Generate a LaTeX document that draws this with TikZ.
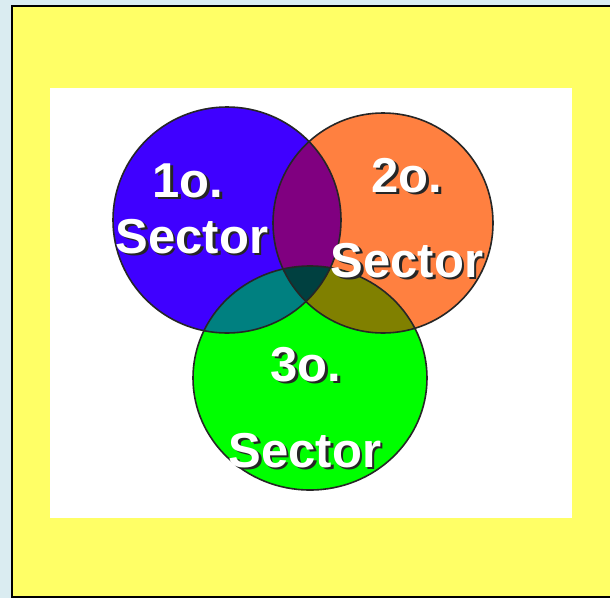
\documentclass[tikz,border=0pt]{standalone}
\usepackage{fontspec}
\setmainfont{Liberation Sans}
\usepackage{tikz}

\definecolor{pagebg}{HTML}{DAECF1}
\definecolor{slideyellow}{HTML}{FFFF66}
\definecolor{sectorblue}{HTML}{3F00FF}
\definecolor{sectororange}{HTML}{FF8040}
\definecolor{sectorgreen}{HTML}{00FF00}
\definecolor{mixbo}{HTML}{800080}
\definecolor{mixbg}{HTML}{008080}
\definecolor{mixog}{HTML}{808000}
\definecolor{mixall}{HTML}{004040}

\newcommand{\blueC}{(227,220) circle [x radius=114, y radius=113]}
\newcommand{\orangeC}{(383,223) circle [radius=110]}
\newcommand{\greenC}{(310,378) circle [x radius=117, y radius=112]}
% white text with a dark drop shadow, in one box
\newcommand{\shadowed}[1]{\makebox[0pt][l]{\hspace{2.5pt}\raisebox{-2.5pt}{\color{black!85}#1}}#1}

\begin{document}
\begin{tikzpicture}[x=1pt,y=-1pt]
  \tikzset{sectortext/.style={text=white, anchor=base, inner sep=0pt,
      font=\fontsize{49}{49}\selectfont\bfseries}};
  \tikzset{rim/.style={draw=black!85, line width=1.6pt}};

  \useasboundingbox (0,0) rectangle (610,598);
  \fill[pagebg] (0,0) rectangle (610,598);
  \filldraw[fill=slideyellow, draw=black, line width=2pt] (12,6) rectangle (625,597);
  \fill[white] (50,88) rectangle (572,518);

  % the three sectors
  \fill[sectorblue] \blueC;
  \fill[sectororange] \orangeC;
  \fill[sectorgreen] \greenC;
  \begin{scope}
    \clip \blueC;
    \fill[mixbo] \orangeC;
    \fill[mixbg] \greenC;
    \clip \orangeC;
    \fill[mixall] \greenC;
  \end{scope}
  \begin{scope}
    \clip \orangeC;
    \clip \greenC;
    \fill[mixog] (0,0) rectangle (610,598);
    \clip \blueC;
    \fill[mixall] (0,0) rectangle (610,598);
  \end{scope}
  \draw[rim] \blueC;
  \draw[rim] \orangeC;
  \draw[rim] \greenC;

  % labels
  \node[sectortext] (first) at (188,197) {\shadowed{1o.}};
  \node[sectortext] (firstsector) at (192,253) {\shadowed{Sector}};
  \node[sectortext] (second) at (407,192) {\shadowed{2o.}};
  \node[sectortext] (secondsector) at (407,277) {\shadowed{Sector}};
  \node[sectortext] (third) at (306,381) {\shadowed{3o.}};
  \node[sectortext] (thirdsector) at (305,467) {\shadowed{Sector}};
\end{tikzpicture}
\end{document}
